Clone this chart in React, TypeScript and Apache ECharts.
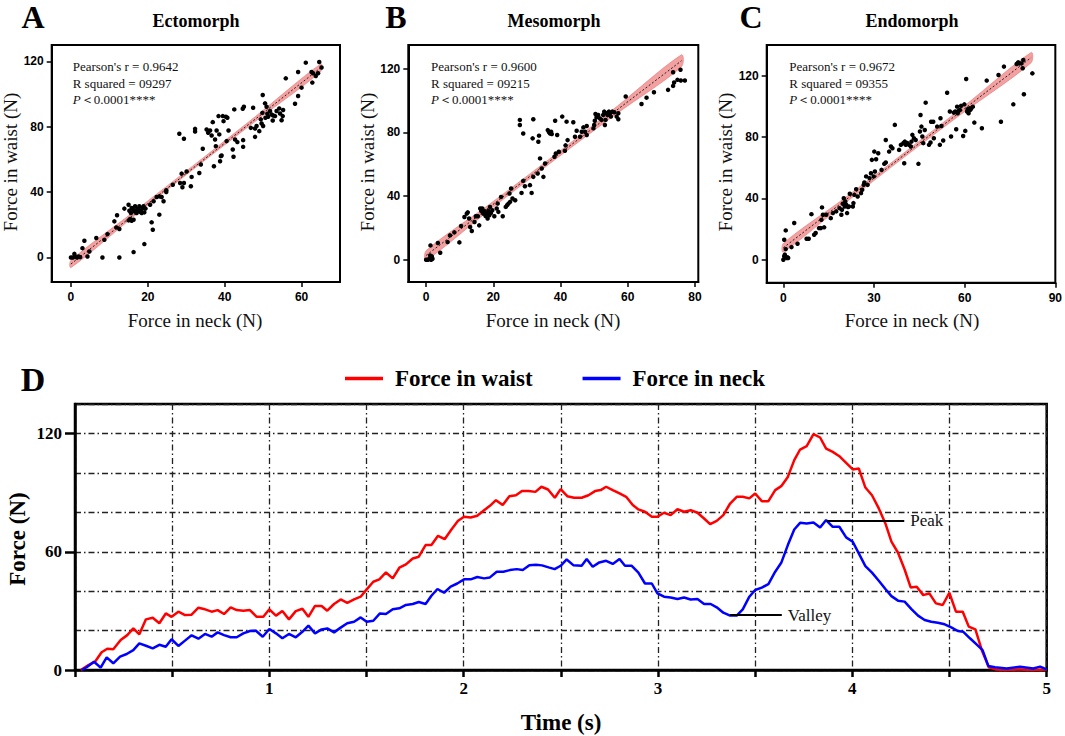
import React, { useEffect, useRef } from "react";
import * as echarts from "echarts";

const serif = "'Liberation Serif', 'Times New Roman', serif";
const sans = "'Liberation Sans', Arial, sans-serif";

// ---------- Panel A: Ectomorph ----------
const ectoPoints: number[][] = [
  [0, 0], [0.5, 0], [1.1, 0.6], [0.9, 2.2], [1.6, 0], [2, 0.6], [2.4, 0.2], [3, 5.7], [3.5, 10.2], [4.3, 0.6], [4.8, 3.7],
  [6.6, 11.9], [8.2, 0], [8.7, 10.8], [9.5, 14.3], [11.3, 22.1], [12, 25.8], [11.8, 18.4], [12.6, 0], [12.6, 17.4], [13.9, 29.9],
  [15.0, 32.3], [15.2, 28.6], [15.4, 23.5], [15.6, 27.2], [15.8, 30.3], [16.1, 29.7], [16.3, 23.1], [16.5, 28.2], [16.7, 31.3],
  [17.0, 28.8], [17.1, 27.2], [17.3, 29.7], [17.6, 29.2], [17.8, 31.3], [18.0, 28.0], [18.2, 28.8], [18.4, 27.2], [18.7, 30.3],
  [18.9, 31.3], [19.1, 27.6], [19.4, 29.9], [15.8, 22.5], [15.0, 22.7], [16.3, 3.3], [19.1, 8.2], [21, 21.5], [21.3, 17],
  [23, 26.2], [20.6, 32.3], [21.5, 34.4], [22.3, 37], [23, 37.4], [23.6, 37], [24.1, 34.4], [24.8, 40.1], [24.8, 41.1],
  [26.5, 44.5], [28.2, 75.7], [29.4, 72.6], [28.4, 45.6], [28.8, 51.3], [29, 43], [29.4, 45.6], [31.2, 43.6], [30.1, 52.6],
  [31.4, 49.3], [32.3, 78.7], [32.3, 77.1], [33.4, 51.7], [33.8, 56.9], [34.3, 66.5], [35.3, 78.3], [35.7, 76.3], [36.2, 77.7],
  [36.6, 74.6], [36.9, 82.8], [37.2, 55.8], [37.5, 72.2], [37.7, 68.1], [37.9, 77.7], [38.4, 86.5], [38.6, 75.3], [38.8, 58.9],
  [39, 62], [39.2, 62.4], [39.5, 86.5], [39.7, 83.4], [40.3, 86.1], [40.5, 71.2], [40.7, 85.5], [41, 77.7], [42.1, 66.1],
  [42.3, 61.6], [42.5, 90.6], [42.7, 72.2], [43.3, 70.6], [44.7, 91], [45, 92.2], [44.8, 67.7], [44.8, 71.8], [47.4, 91.6],
  [47.9, 73.8], [47.9, 78.9], [46.8, 79.3], [48.3, 80.4], [49, 77.3], [49.4, 84.5], [49.6, 82], [49.8, 88.5], [49.9, 99.4],
  [50, 80.4], [50.5, 94.3], [50.6, 85.5], [50.9, 92.2], [51.1, 87.9], [51.3, 86.1], [51.8, 89.6], [52.2, 87.5], [52.5, 83.8],
  [52.6, 86.9], [53.1, 86.5], [53.5, 89.6], [54.2, 91.2], [54.4, 88.1], [54.8, 84], [55.1, 86.5], [55.2, 90.2], [55.9, 109.6],
  [58.3, 94.1], [59.1, 98.8], [59.1, 113.5], [60, 103.9], [61.1, 119.2], [62.6, 113.5], [62.8, 107], [63, 112.7], [64.3, 112.7],
  [64.6, 119.6], [65.2, 116.2], [63.7, 111],
];
const ectoFit: number[][] = [[0, -4], [65, 116.1]];
const ectoBand: number[][] = [[0, -6.2, -1.8], [16, 24.5, 27.3], [32, 54.3, 56.5], [48, 83.4, 86.2], [65, 113.8, 118.4]];
const ectoStats = ["Pearson's r = 0.9642", "R squared = 09297"];

// ---------- Panel B: Mesomorph ----------
const mesoPoints: number[][] = [
  [0, 0], [0.5, 0], [0.9, 0.4], [1.2, 2.7], [1.5, 0], [1.7, 2.1], [1.9, 0.6], [1.3, 9], [3.5, 10.5], [4.2, 4.4], [6.4, 11.1],
  [7.1, 15.3], [8.4, 17.2], [9.9, 10.9], [10.4, 21.2], [11.4, 26.9], [12.1, 29], [12.4, 29.8], [12.8, 25.9], [13.1, 20.6],
  [13.6, 18.1], [14.4, 23.7], [14.8, 27.3], [15.4, 27.3], [15.8, 21.6], [16.1, 32.2], [16.4, 30.7], [16.7, 32.2], [17, 29],
  [17.3, 30.7], [17.7, 27.5], [18, 29], [18.3, 25.9], [18.5, 30.7], [18.8, 28], [19, 33.2], [19.3, 29.4], [19.7, 31.1],
  [20.3, 27.3], [21, 32.2], [21.3, 35.3], [21.5, 30.1], [22.3, 39.5], [22.8, 27.3], [23.7, 33.2], [24.1, 34.3], [24.5, 35.3],
  [24.8, 41.6], [25, 36.4], [25.3, 44.8], [25.7, 38.5], [26.5, 37.4], [27.9, 87.9], [27.9, 84.7], [28.4, 42], [28.9, 49.6],
  [28.9, 79.4], [29.4, 46.2], [30.9, 46.9], [31.4, 42], [31.7, 76.3], [31.9, 88.3], [31.9, 52.1], [33.2, 54.2], [33.4, 74.2],
  [33.6, 78], [33.9, 63.7], [34.4, 57.4], [34.9, 52.1], [35.4, 60.5], [36.2, 81.5], [36.6, 80.1], [36.9, 79.4], [37.2, 80.5],
  [37.4, 79], [38.2, 64.7], [38.4, 87.4], [38.6, 66.8], [39, 78.4], [39.5, 67.9], [40.5, 90], [41.3, 68.5], [41.5, 71.9],
  [41.8, 86.8], [42.1, 75.2], [43.8, 86.4], [44.3, 77.3], [44.8, 81.1], [45.8, 77.3], [46.3, 80.5], [46.8, 83.2], [47.3, 80.5],
  [47.8, 78.4], [47.8, 84.1], [49.8, 82.6], [50, 84.7], [50.2, 87.4], [50.4, 91.6], [50.7, 89.5], [51.2, 91], [51.7, 88.9],
  [52.2, 87.9], [52.7, 91], [53, 93.1], [53.2, 84.7], [53.4, 87.9], [53.7, 92.1], [54, 91], [54.4, 93.1], [54.7, 92.1],
  [55, 90], [55.4, 93.1], [56, 92.7], [56.7, 90], [57.2, 88.3], [57.2, 92.1], [59.4, 102.6], [64.1, 97.9], [65.6, 101.9],
  [67.8, 105.3], [72, 106.8], [73.5, 109.3], [73.5, 117.9], [73.8, 111.4], [74.8, 113.1], [75.7, 119.4], [75.8, 112.7],
  [77, 112.7],
];
const mesoFit: number[][] = [[0, 2.7], [76, 125.1]];
const mesoBand: number[][] = [[0, -0.3, 5.7], [19, 31.5, 35.1], [38, 62.4, 65.4], [57, 92.3, 96.7], [76, 121.4, 128.8]];
const mesoStats = ["Pearson's r = 0.9600", "R squared = 09215"];

// ---------- Panel C: Endomorph ----------
const endoPoints: number[][] = [
  [0, 0], [0.3, 2.2], [0.5, 3.3], [1.1, 1.1], [1.4, 1.5], [0.3, 13], [0.8, 19.1], [0.8, 6.9], [1.6, 1.1], [2.7, 8.2],
  [3.6, 23.9], [4.7, 10.4], [7.7, 13.7], [8.4, 13.7], [9.3, 29.7], [10.2, 16.3], [10.7, 17.4], [11.8, 20.6], [12.4, 20.6],
  [12.6, 26], [12.8, 34.1], [13.1, 29.3], [13.5, 21.1], [14.2, 29.3], [15.7, 27.1], [16.4, 30.4], [17.5, 31.5], [18.6, 33.6],
  [19.2, 29.3], [19.4, 32.6], [19.7, 36.5], [20, 40.1], [20.3, 34.7], [20.5, 38], [20.8, 35.8], [21.1, 30.4], [21.4, 34.3],
  [21.7, 34.7], [22, 43], [23, 34.7], [23.2, 36.9], [23.5, 42.3], [24.1, 46], [24.6, 41.2], [25.7, 43.4], [26.1, 45.6],
  [26.6, 48.8], [26.8, 50.3], [27.4, 54.3], [27.9, 48.8], [28.5, 53.2], [29, 56.4], [29.3, 65.1], [29.9, 54.3], [30.1, 70.5],
  [30.3, 57.5], [30.7, 65.5], [31.4, 69.4], [32.5, 58.6], [33.4, 62.5], [33.9, 63.4], [33.9, 78.1], [35, 70.5], [35.6, 73.8],
  [36.1, 72.7], [36.9, 87.9], [38.3, 71.6], [38.9, 74.9], [39.7, 76], [40, 62.9], [40.2, 77], [40.5, 74.9], [41.1, 76],
  [41.6, 74.9], [42.2, 73.8], [42.4, 77], [42.7, 81.4], [43.2, 79.2], [43.8, 78.1], [44.7, 62.5], [45.2, 83.6], [45.4, 94.4],
  [45.7, 86.8], [46, 80.3], [46.3, 76], [46.8, 84.6], [47.1, 102.4], [48.2, 74.9], [48.7, 76.4], [48.9, 90], [49.6, 90],
  [49.8, 79.2], [50.9, 86.8], [51.8, 74.9], [52, 92.2], [52.3, 87.2], [52.9, 77.7], [54.2, 108.9], [55.1, 96.6], [55.5, 80.3],
  [56.4, 95.9], [56.9, 96.6], [57.2, 85.1], [57.5, 99.8], [57.7, 95.5], [58, 97], [58.4, 97.7], [58.8, 100.3], [59.5, 80.7],
  [59.9, 101.3], [60.2, 84], [60.5, 117.8], [60.8, 96.6], [61, 98.1], [61.3, 95.5], [61.6, 98.7], [61.9, 97.7], [62.2, 98.7],
  [62.7, 99.8], [63.2, 89.4], [65.7, 85.7], [67.3, 116.8], [71.2, 120.4], [72, 90], [73, 125.9], [76.1, 101.3], [77.2, 127.6],
  [77.7, 128.7], [78.1, 128], [79.2, 124.8], [79.4, 130.2], [79.6, 107.9], [82.4, 121.5], [78.8, 128],
];
const endoFit: number[][] = [[0, 7.8], [82, 131.8]];
const endoBand: number[][] = [[0, 5, 10.6], [20, 36.3, 39.7], [40, 66.9, 69.7], [60, 96.6, 100.4], [82, 128.5, 135.1]];
const endoStats = ["Pearson's r = 0.9672", "R squared = 09355"];

// ---------- Panel D: time series ----------
const waistForce: number[][] = [
  [0.03, 0], [0.069, 2.5], [0.103, 4.2], [0.137, 9.0], [0.166, 10.8], [0.197, 10.5], [0.235, 15.2], [0.269, 17.7], [0.3, 21.1],
  [0.331, 18.1], [0.365, 25.7], [0.4, 26.5], [0.434, 23.7], [0.467, 28.7], [0.497, 27.0], [0.532, 29.6], [0.566, 27.9],
  [0.6, 28.1], [0.635, 31.6], [0.669, 30.8], [0.703, 29.6], [0.734, 30.4], [0.767, 28.4], [0.801, 31.8], [0.832, 30.4],
  [0.866, 30.1], [0.9, 30.4], [0.935, 27.0], [0.969, 27.0], [1.0, 30.8], [1.034, 27.6], [1.067, 29.9], [1.101, 25.7],
  [1.136, 29.9], [1.17, 31.1], [1.201, 27.0], [1.235, 32.5], [1.269, 32.5], [1.298, 30.1], [1.333, 33.5], [1.367, 35.8],
  [1.401, 34.1], [1.436, 35.8], [1.47, 37.2], [1.501, 40.9], [1.535, 44.8], [1.566, 46.0], [1.6, 49.5], [1.635, 46.5],
  [1.669, 51.9], [1.703, 53.6], [1.738, 56.6], [1.769, 57.5], [1.804, 63.4], [1.834, 63.4], [1.868, 68.1], [1.902, 66.4],
  [1.937, 71.3], [1.971, 75.7], [2.002, 77.8], [2.036, 77.4], [2.07, 78.3], [2.105, 81.1], [2.135, 83.3], [2.166, 86.2],
  [2.201, 83.7], [2.235, 88.2], [2.269, 88.7], [2.3, 90.9], [2.334, 90.9], [2.369, 90.4], [2.4, 93.0], [2.434, 91.6],
  [2.469, 87.4], [2.499, 91.8], [2.533, 88.2], [2.568, 87.4], [2.607, 87.4], [2.642, 88.7], [2.676, 90.8], [2.705, 91.3],
  [2.733, 93.0], [2.767, 91.3], [2.802, 89.6], [2.836, 87.9], [2.87, 83.7], [2.899, 81.5], [2.933, 80.3], [2.968, 77.8],
  [2.997, 77.8], [3.031, 79.8], [3.065, 78.6], [3.1, 81.6], [3.134, 80.3], [3.168, 81.1], [3.203, 79.8], [3.237, 76.9],
  [3.268, 74.0], [3.302, 75.7], [3.336, 78.6], [3.371, 84.5], [3.405, 87.9], [3.436, 87.9], [3.47, 87.1], [3.5, 89.6],
  [3.534, 85.7], [3.568, 85.7], [3.603, 91.3], [3.634, 93.3], [3.668, 98.0], [3.701, 106.5], [3.731, 111.9], [3.765, 113.6],
  [3.8, 119.7], [3.834, 118.0], [3.865, 112.4], [3.899, 110.7], [3.933, 108.5], [3.968, 105.1], [4.002, 101.8], [4.033, 102.3],
  [4.067, 92.6], [4.101, 88.7], [4.136, 82.0], [4.17, 74.4], [4.201, 65.1], [4.235, 59.5], [4.269, 51.0], [4.3, 41.9],
  [4.331, 42.3], [4.365, 38.0], [4.396, 38.9], [4.43, 33.8], [4.465, 33.0], [4.499, 39.2], [4.533, 29.6], [4.568, 29.6],
  [4.599, 22.0], [4.633, 20.6], [4.667, 9.8], [4.702, 1.4], [4.736, 0.3], [4.794, 0], [4.863, 0.3], [4.931, 0], [5.0, 0.3],
];
const neckForce: number[][] = [
  [0.034, 0], [0.06, 1.4], [0.098, 4.2], [0.132, 1.2], [0.163, 6.4], [0.197, 3.4], [0.232, 6.8], [0.266, 8.1], [0.3, 10.1],
  [0.331, 13.5], [0.365, 12.3], [0.4, 11.0], [0.434, 12.8], [0.467, 11.8], [0.497, 15.6], [0.532, 12.2], [0.566, 14.9],
  [0.6, 17.6], [0.635, 15.9], [0.669, 18.3], [0.703, 16.9], [0.734, 19.1], [0.767, 17.7], [0.801, 16.6], [0.832, 16.6],
  [0.866, 18.6], [0.9, 19.8], [0.931, 19.9], [0.966, 16.9], [1.0, 20.8], [1.034, 18.6], [1.067, 16.1], [1.101, 18.3],
  [1.136, 16.6], [1.17, 19.4], [1.201, 22.5], [1.235, 18.6], [1.269, 20.6], [1.298, 21.1], [1.333, 19.1], [1.367, 21.5],
  [1.401, 23.7], [1.436, 24.5], [1.47, 26.7], [1.501, 24.5], [1.535, 25.0], [1.569, 28.7], [1.6, 28.4], [1.635, 30.8],
  [1.669, 31.3], [1.703, 33.0], [1.738, 33.5], [1.769, 34.5], [1.804, 33.5], [1.834, 37.7], [1.865, 41.1], [1.899, 39.2],
  [1.933, 42.3], [1.967, 43.9], [2.002, 46.0], [2.036, 46.0], [2.07, 47.2], [2.105, 46.5], [2.135, 47.0], [2.17, 49.9],
  [2.204, 49.9], [2.238, 50.7], [2.273, 51.2], [2.304, 50.7], [2.338, 53.2], [2.372, 53.4], [2.403, 53.1], [2.437, 52.1],
  [2.468, 51.2], [2.499, 52.9], [2.53, 56.1], [2.564, 53.2], [2.607, 52.9], [2.633, 56.3], [2.664, 52.4], [2.698, 54.6],
  [2.733, 55.4], [2.767, 53.8], [2.802, 56.3], [2.83, 52.9], [2.865, 52.9], [2.899, 49.4], [2.933, 43.9], [2.968, 43.9],
  [2.997, 38.9], [3.031, 37.2], [3.065, 36.8], [3.1, 36.0], [3.134, 36.8], [3.168, 35.8], [3.203, 36.0], [3.237, 33.5],
  [3.271, 33.5], [3.302, 31.8], [3.336, 29.1], [3.371, 27.6], [3.405, 27.6], [3.436, 30.8], [3.47, 37.2], [3.5, 40.6],
  [3.534, 41.8], [3.568, 43.6], [3.603, 49.9], [3.634, 54.4], [3.668, 63.4], [3.701, 71.3], [3.731, 74.7], [3.765, 74.4],
  [3.8, 74.9], [3.834, 72.3], [3.865, 76.1], [3.899, 72.7], [3.933, 72.7], [3.968, 67.3], [4.002, 65.1], [4.033, 59.2],
  [4.067, 52.7], [4.101, 49.4], [4.136, 45.3], [4.17, 41.1], [4.201, 37.5], [4.235, 35.2], [4.269, 34.7], [4.304, 30.9],
  [4.338, 27.6], [4.372, 25.4], [4.406, 24.5], [4.44, 24.0], [4.475, 23.2], [4.509, 21.6], [4.543, 19.8], [4.571, 19.4],
  [4.605, 16.1], [4.639, 13.0], [4.67, 10.1], [4.7, 2.0], [4.734, 1.4], [4.794, 0.8], [4.863, 1.7], [4.931, 0.8],
  [4.966, 1.7], [5.0, 0.3],
];
const peakMark: number[][] = [[3.869, 75.7], [4.267, 75.7]];
const valleyMark: number[][] = [[3.371, 27.9], [3.637, 27.9]];
const dXTicks = [1, 2, 3, 4, 5];
const dYTicks = [0, 60, 120];

function scatterAxes(gi: number, xr: number[], yr: number[], xt: number[], yt: number[]) {
  const common = {
    gridIndex: gi,
    type: "value" as const,
    axisLine: { show: true, onZero: false, lineStyle: { color: "#000", width: 2 } },
    axisTick: { show: true, length: 5, lineStyle: { color: "#000", width: 1.5 } },
    splitLine: { show: false },
    axisLabel: { color: "#000", fontFamily: sans, fontWeight: "bold", fontSize: 12 },
  };
  return {
    x: {
      ...common, min: xr[0], max: xr[1],
      axisTick: { ...common.axisTick, customValues: xt },
      axisLabel: { ...common.axisLabel, customValues: xt, margin: 9 },
    },
    y: {
      ...common, min: yr[0], max: yr[1],
      axisTick: { ...common.axisTick, customValues: yt },
      axisLabel: { ...common.axisLabel, customValues: yt, margin: 8 },
    },
  };
}

function bandSeries(gi: number, band: number[][]) {
  return {
    type: "custom", xAxisIndex: gi, yAxisIndex: gi, data: band, z: 1, silent: true,
    encode: { x: 0, y: [1, 2] },
    renderItem: (params: any, api: any) => {
      if (params.dataIndex !== 0) return { type: "group", children: [] };
      const upper = band.map((b) => api.coord([b[0], b[2]]));
      const lower = band.map((b) => api.coord([b[0], b[1]])).reverse();
      return {
        type: "polygon",
        shape: { points: upper.concat(lower), smooth: 0.3 },
        style: { fill: "#f3a0a0", stroke: "#ec8888", lineWidth: 0.8 },
      };
    },
  };
}

function fitSeries(gi: number, fit: number[][]) {
  return {
    type: "line", xAxisIndex: gi, yAxisIndex: gi, data: fit, z: 2, symbol: "none", silent: true,
    lineStyle: { color: "#222", width: 1, type: [2, 2] },
  };
}

function pointSeries(gi: number, pts: number[][]) {
  return {
    type: "scatter", xAxisIndex: gi, yAxisIndex: gi, data: pts, z: 3, symbolSize: 4.5,
    itemStyle: { color: "#000", opacity: 1 }, silent: true,
  };
}

const statSize = 13;

function statsTexts(x: number, stats: string[]) {
  const mk = (y: number, text: string, rich?: any) => ({
    type: "text", x, y,
    style: {
      text, fontFamily: serif, fontSize: statSize,
      fill: "#111", align: "left", verticalAlign: "middle", ...(rich ? { rich } : {}),
    },
  });
  return [
    mk(66, stats[0]),
    mk(83, stats[1]),
    mk(99, "{i|P}＜0.0001****", { i: { fontStyle: "italic", fontFamily: serif, fontSize: statSize } }),
  ];
}

function panelTexts(letterX: number, letter: string, titleX: number, title: string, yNameX: number, xNameX: number) {
  return [
    { type: "text", x: letterX, y: 17, style: { text: letter, fontFamily: serif, fontWeight: "bold", fontSize: 32, fill: "#000", align: "center", verticalAlign: "middle" } },
    { type: "text", x: titleX, y: 21, style: { text: title, fontFamily: serif, fontWeight: "bold", fontSize: 18, fill: "#000", align: "center", verticalAlign: "middle" } },
    { type: "text", x: yNameX, y: 162, rotation: Math.PI / 2, style: { text: "Force in waist (N)", fontFamily: serif, fontSize: 19, fill: "#111", align: "center", verticalAlign: "middle" } },
    { type: "text", x: xNameX, y: 320, style: { text: "Force in neck (N)", fontFamily: serif, fontSize: 19, fill: "#111", align: "center", verticalAlign: "middle" } },
  ];
}

export default function App() {
  const ref = useRef<HTMLDivElement>(null);
  useEffect(() => {
    document.body.style.margin = "0";
    if (!ref.current) return;
    const chart = echarts.init(ref.current, null, { renderer: "svg" });
    const aAx = scatterAxes(0, [-5, 70], [-15, 130], [0, 20, 40, 60], [0, 40, 80, 120]);
    const bAx = scatterAxes(1, [-5.3, 81], [-14, 135], [0, 20, 40, 60, 80], [0, 40, 80, 120]);
    const cAx = scatterAxes(2, [-5.5, 90], [-15, 140], [0, 30, 60, 90], [0, 40, 80, 120]);
    const gridBox = { show: true, borderColor: "#000", borderWidth: 2, backgroundColor: "transparent", containLabel: false };
    const dashDot = { color: "#222", width: 1.3, type: [6, 3, 1.5, 3] as number[] };

    const option: any = {
      animation: false,
      backgroundColor: "#fff",
      grid: [
        { ...gridBox, left: 51.7, top: 45, width: 288.3, height: 237 },
        { ...gridBox, left: 408.3, top: 45, width: 290, height: 237 },
        { ...gridBox, left: 766.7, top: 45, width: 290, height: 237.7 },
        { ...gridBox, left: 75, top: 404, width: 971.7, height: 266, borderWidth: 2.5 },
      ],
      xAxis: [
        aAx.x, bAx.x, cAx.x,
        {
          gridIndex: 3, type: "value", min: 0, max: 5, interval: 0.5,
          axisLine: { show: true, onZero: false, lineStyle: { color: "#000", width: 2.5 } },
          axisTick: { show: true, length: 7, lineStyle: { color: "#000", width: 2.5 } },
          axisLabel: { customValues: dXTicks, color: "#000", fontFamily: serif, fontWeight: "bold", fontSize: 17, margin: 10 },
          splitLine: { show: true, lineStyle: dashDot },
        },
      ],
      yAxis: [
        aAx.y, bAx.y, cAx.y,
        {
          gridIndex: 3, type: "value", min: 0, max: 135, interval: 20,
          axisLine: { show: true, onZero: false, lineStyle: { color: "#000", width: 2.5 } },
          axisTick: { show: false },
          axisLabel: { show: false },
          splitLine: { show: true, lineStyle: dashDot },
        },
        {
          gridIndex: 3, type: "value", min: 0, max: 135, position: "left", offset: 0,
          axisLine: { show: false, onZero: false },
          axisTick: { show: true, length: 10, customValues: dYTicks, lineStyle: { color: "#000", width: 2.5 } },
          axisLabel: { customValues: dYTicks, color: "#000", fontFamily: serif, fontWeight: "bold", fontSize: 17, margin: 13 },
          splitLine: { show: false },
        },
      ],
      legend: {
        data: ["Force in waist", "Force in neck"],
        left: 345, top: 367, icon: "rect", itemWidth: 38, itemHeight: 3.5, itemGap: 50, padding: 0,
        textStyle: { fontFamily: serif, fontWeight: "bold", fontSize: 23, color: "#000", padding: [0, 0, 0, 7] },
      },
      series: [
        bandSeries(0, ectoBand), fitSeries(0, ectoFit), pointSeries(0, ectoPoints),
        bandSeries(1, mesoBand), fitSeries(1, mesoFit), pointSeries(1, mesoPoints),
        bandSeries(2, endoBand), fitSeries(2, endoFit), pointSeries(2, endoPoints),
        {
          name: "Force in waist", type: "line", xAxisIndex: 3, yAxisIndex: 3, data: waistForce, symbol: "none",
          lineStyle: { color: "#ff0000", width: 2.5 }, itemStyle: { color: "#ff0000" }, z: 3,
        },
        {
          name: "Force in neck", type: "line", xAxisIndex: 3, yAxisIndex: 3, data: neckForce, symbol: "none",
          lineStyle: { color: "#0000ff", width: 2.5 }, itemStyle: { color: "#0000ff" }, z: 4,
          markLine: {
            silent: true, symbol: ["none", "none"], animation: false,
            lineStyle: { color: "#000", width: 2, type: "solid" },
            label: { show: true, position: "end", formatter: "{b}", distance: 6, color: "#111", fontFamily: serif, fontSize: 17 },
            data: [
              [{ name: "Peak", coord: peakMark[0] }, { coord: peakMark[1] }],
              [{ name: "Valley", coord: valleyMark[0] }, { coord: valleyMark[1] }],
            ],
          },
        },
      ],
      graphic: [
        ...panelTexts(33, "A", 196, "Ectomorph", 10, 195),
        ...statsTexts(72.7, ectoStats),
        ...panelTexts(396, "B", 554, "Mesomorph", 367, 553),
        ...statsTexts(431, mesoStats),
        ...panelTexts(751, "C", 912, "Endomorph", 725, 912),
        ...statsTexts(789.3, endoStats),
        { type: "text", x: 33, y: 379, style: { text: "D", fontFamily: serif, fontWeight: "bold", fontSize: 34, fill: "#000", align: "center", verticalAlign: "middle" } },
        { type: "text", x: 17, y: 539, rotation: Math.PI / 2, style: { text: "Force (N)", fontFamily: serif, fontWeight: "bold", fontSize: 23, fill: "#000", align: "center", verticalAlign: "middle" } },
        { type: "text", x: 561, y: 722, style: { text: "Time (s)", fontFamily: serif, fontWeight: "bold", fontSize: 23, fill: "#000", align: "center", verticalAlign: "middle" } },
      ],
    };
    chart.setOption(option);
    return () => chart.dispose();
  }, []);
  return <div ref={ref} style={{ width: 1065, height: 736 }} />;
}
